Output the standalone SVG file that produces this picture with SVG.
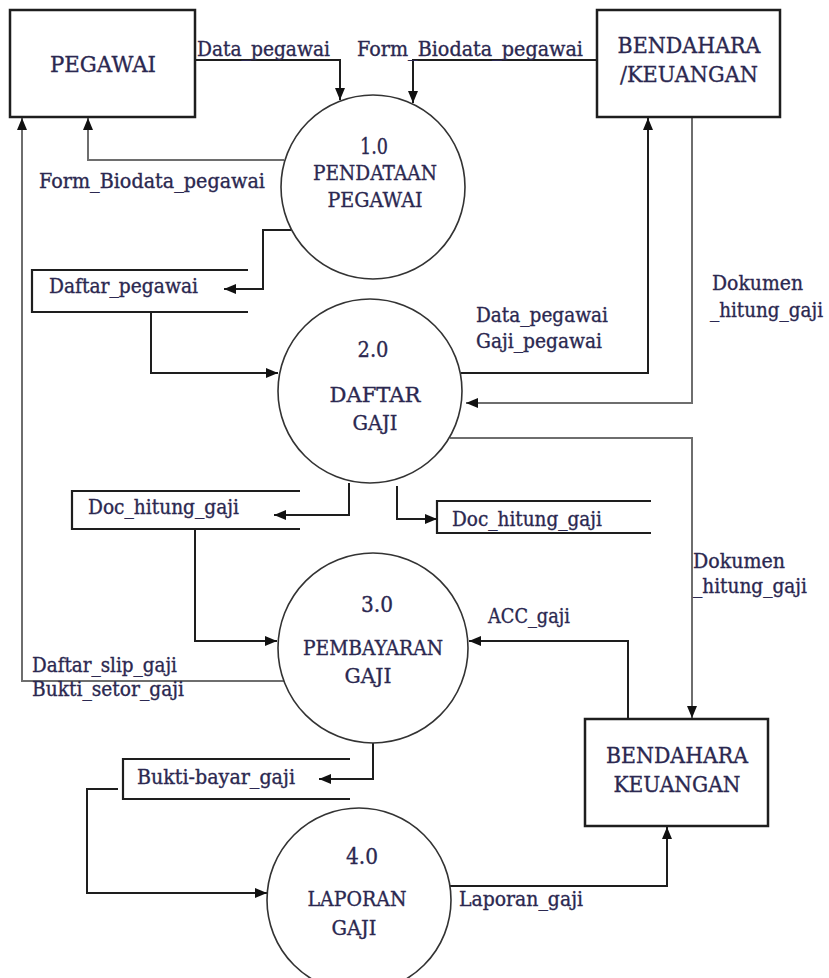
<svg xmlns="http://www.w3.org/2000/svg" width="829" height="978" viewBox="0 0 829 978">
  <style>
    text { font-family: "DejaVu Serif", "Liberation Serif", serif; fill: #2b2850; stroke: #2b2850; stroke-width: 0.35; }
    .lbl { font-size: 19.5px; }
    .ent { font-size: 23px; text-anchor: middle; }
    .num { font-size: 22px; text-anchor: middle; }
    .pn { font-size: 21px; text-anchor: middle; }
    .box { fill: #fff; stroke: #1e1e1e; stroke-width: 2.5; }
    .proc { fill: #fff; stroke: #333; stroke-width: 1.6; }
    .store { fill: none; stroke: #1e1e1e; stroke-width: 2.2; }
    .flow { fill: none; stroke: #1e1e1e; stroke-width: 2; marker-end: url(#arrow); }
    .flow-g { fill: none; stroke: #6e6e6e; stroke-width: 2; marker-end: url(#arrow); }
  </style>
  <defs>
    <marker id="arrow" viewBox="0 0 12 10" refX="12" refY="5" markerWidth="12" markerHeight="10" markerUnits="userSpaceOnUse" orient="auto">
      <path d="M0,0 L12,5 L0,10 Z" fill="#111"/>
    </marker>
  </defs>
  <rect width="829" height="978" fill="#fff"/>

  <!-- data flows -->
  <g id="connectors">
    <path class="flow" d="M195,60 H340 V100"/>
    <path class="flow" d="M597,60 H413 V103"/>
    <path class="flow-g" d="M284,160 H88 V118"/>
    <path class="flow-g" d="M284,681 H22 V118"/>
    <path class="flow" d="M291,230 H263 V289 H224"/>
    <path class="flow" d="M151,312 V373 H278"/>
    <path class="flow" d="M461,373 H648 V118"/>
    <path class="flow-g" d="M692,117 V403 H466"/>
    <path class="flow-g" d="M450,438 H692 V718"/>
    <path class="flow" d="M349,483 V515 H274"/>
    <path class="flow" d="M397,486 V519 H437"/>
    <path class="flow" d="M195,529 V641 H277"/>
    <path class="flow" d="M628,718 V641 H469"/>
    <path class="flow" d="M373,743 V779 H319"/>
    <path class="flow" d="M118,789 H87 V893 H267"/>
    <path class="flow" d="M450,886 H667 V827"/>

    <text class="lbl" x="197" y="56" textLength="133" lengthAdjust="spacingAndGlyphs">Data_pegawai</text>
    <text class="lbl" x="357" y="56" textLength="226" lengthAdjust="spacingAndGlyphs">Form_Biodata_pegawai</text>
    <text class="lbl" x="39" y="188" textLength="226" lengthAdjust="spacingAndGlyphs">Form_Biodata_pegawai</text>
    <text class="lbl" x="476" y="322" textLength="132" lengthAdjust="spacingAndGlyphs">Data_pegawai</text>
    <text class="lbl" x="476" y="348" textLength="126" lengthAdjust="spacingAndGlyphs">Gaji_pegawai</text>
    <text class="lbl" x="712" y="290" textLength="91" lengthAdjust="spacingAndGlyphs">Dokumen</text>
    <text class="lbl" x="710" y="317" textLength="113" lengthAdjust="spacingAndGlyphs">_hitung_gaji</text>
    <text class="lbl" x="693" y="568" textLength="92" lengthAdjust="spacingAndGlyphs">Dokumen</text>
    <text class="lbl" x="693" y="593" textLength="114" lengthAdjust="spacingAndGlyphs">_hitung_gaji</text>
    <text class="lbl" x="488" y="623" textLength="82" lengthAdjust="spacingAndGlyphs">ACC_gaji</text>
    <text class="lbl" x="32" y="672" textLength="145" lengthAdjust="spacingAndGlyphs">Daftar_slip_gaji</text>
    <text class="lbl" x="32" y="696" textLength="152" lengthAdjust="spacingAndGlyphs">Bukti_setor_gaji</text>
    <text class="lbl" x="459" y="906" textLength="124" lengthAdjust="spacingAndGlyphs">Laporan_gaji</text>
  </g>

  <!-- external entities -->
  <g id="pegawai">
    <rect class="box" x="10" y="10" width="185" height="107"/>
    <text class="ent" x="103" y="72" textLength="106" lengthAdjust="spacingAndGlyphs">PEGAWAI</text>
  </g>
  <g id="bendahara-keuangan-1">
    <rect class="box" x="597" y="10" width="183" height="107"/>
    <text class="ent" x="689" y="53" textLength="143" lengthAdjust="spacingAndGlyphs">BENDAHARA</text>
    <text class="ent" x="689" y="82" textLength="138" lengthAdjust="spacingAndGlyphs">/KEUANGAN</text>
  </g>
  <g id="bendahara-keuangan-2">
    <rect class="box" x="585" y="719" width="183" height="107"/>
    <text class="ent" x="677" y="763" textLength="142" lengthAdjust="spacingAndGlyphs">BENDAHARA</text>
    <text class="ent" x="677" y="792" textLength="127" lengthAdjust="spacingAndGlyphs">KEUANGAN</text>
  </g>

  <!-- processes -->
  <g id="p1">
    <circle class="proc" cx="373" cy="187" r="92"/>
    <text class="num" x="374" y="154" textLength="28" lengthAdjust="spacingAndGlyphs">1.0</text>
    <text class="pn" x="375" y="180" textLength="124" lengthAdjust="spacingAndGlyphs">PENDATAAN</text>
    <text class="pn" x="375" y="207" textLength="95" lengthAdjust="spacingAndGlyphs">PEGAWAI</text>
  </g>
  <g id="p2">
    <circle class="proc" cx="370" cy="391" r="92"/>
    <text class="num" x="373" y="357" textLength="31" lengthAdjust="spacingAndGlyphs">2.0</text>
    <text class="pn" x="375" y="402" textLength="91" lengthAdjust="spacingAndGlyphs">DAFTAR</text>
    <text class="pn" x="375" y="430" textLength="45" lengthAdjust="spacingAndGlyphs">GAJI</text>
  </g>
  <g id="p3">
    <circle class="proc" cx="373" cy="648" r="95"/>
    <text class="num" x="377" y="612" textLength="32" lengthAdjust="spacingAndGlyphs">3.0</text>
    <text class="pn" x="373" y="655" textLength="140" lengthAdjust="spacingAndGlyphs" style="font-size:20px">PEMBAYARAN</text>
    <text class="pn" x="368" y="683" textLength="47" lengthAdjust="spacingAndGlyphs">GAJI</text>
  </g>
  <g id="p4">
    <circle class="proc" cx="359" cy="900" r="92"/>
    <text class="num" x="362" y="864" textLength="32" lengthAdjust="spacingAndGlyphs">4.0</text>
    <text class="pn" x="357" y="906" textLength="99" lengthAdjust="spacingAndGlyphs" style="font-size:19.5px">LAPORAN</text>
    <text class="pn" x="354" y="935" textLength="45" lengthAdjust="spacingAndGlyphs">GAJI</text>
  </g>

  <!-- data stores -->
  <g id="ds-daftar-pegawai">
    <path class="store" d="M248,270 H32 V312 H248"/>
    <text class="lbl" x="49" y="293" textLength="149" lengthAdjust="spacingAndGlyphs">Daftar_pegawai</text>
  </g>
  <g id="ds-doc-hitung-gaji-1">
    <path class="store" d="M300,491 H72 V529 H300"/>
    <text class="lbl" x="88" y="514" textLength="151" lengthAdjust="spacingAndGlyphs">Doc_hitung_gaji</text>
  </g>
  <g id="ds-doc-hitung-gaji-2">
    <path class="store" d="M651,501 H437 V533 H651"/>
    <text class="lbl" x="452" y="526" textLength="150" lengthAdjust="spacingAndGlyphs">Doc_hitung_gaji</text>
  </g>
  <g id="ds-bukti-bayar-gaji">
    <path class="store" d="M350,759 H123 V799 H350"/>
    <text class="lbl" x="137" y="784" textLength="158" lengthAdjust="spacingAndGlyphs">Bukti-bayar_gaji</text>
  </g>
</svg>
